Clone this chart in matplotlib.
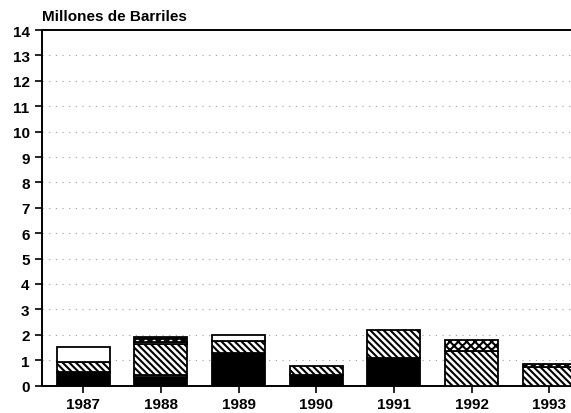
import matplotlib
matplotlib.use("Agg")
import matplotlib.pyplot as plt
import numpy as np

plt.rcParams['font.family'] = ['Liberation Sans', 'DejaVu Sans']
plt.rcParams['hatch.linewidth'] = 1.5

years = ['1987', '1988', '1989', '1990', '1991', '1992', '1993']
y_ticks = list(range(0, 15))

# stacked segments, bottom to top (millions of barrels)
negro = [0.52, 0.33, 1.28, 0.43, 1.07, 0.00, 0.00]
guiones = [0.00, 0.10, 0.00, 0.00, 0.00, 0.00, 0.00]
rayado = [0.42, 1.19, 0.46, 0.35, 1.13, 1.37, 0.72]
blanco = [0.56, 0.10, 0.24, 0.00, 0.00, 0.00, 0.00]
puntos_negro = [0.00, 0.18, 0.00, 0.00, 0.00, 0.00, 0.00]
cuadriculado = [0.00, 0.00, 0.00, 0.00, 0.00, 0.43, 0.13]

segments = [
    (negro, dict(facecolor='black', hatch=None)),
    (guiones, dict(facecolor='white', hatch='--')),
    (rayado, dict(facecolor='white', hatch='\\' * 5)),
    (blanco, dict(facecolor='white', hatch=None)),
    (puntos_negro, dict(facecolor='black', hatch='..', hatchcolor='white')),
    (cuadriculado, dict(facecolor='white', hatch='xxxx')),
]

fig = plt.figure(figsize=(5.71, 4.14), dpi=100)
ax = fig.add_axes([0.0736, 0.0664, 0.9264, 0.8586])

x = np.arange(len(years))
bottom = np.zeros(len(years))
for vals, style in segments:
    vals = np.array(vals)
    mask = vals > 0
    kw = dict(width=0.68, edgecolor='black', linewidth=1.3,
              facecolor=style['facecolor'], zorder=3)
    if style.get('hatch'):
        kw['hatch'] = style['hatch']
    bars = ax.bar(x[mask], vals[mask], bottom=bottom[mask], **kw)
    if style.get('hatchcolor'):
        for b in bars:
            b.set_edgecolor('white')
            b.set_linewidth(0)
        ax.bar(x[mask], vals[mask], bottom=bottom[mask], width=0.68,
               facecolor='none', edgecolor='black', linewidth=1.3, zorder=4)
    bottom = bottom + vals

ax.set_xlim(-0.53, 6.28)
ax.set_ylim(0, 14)
ax.set_yticks(y_ticks)
ax.set_yticklabels([str(t) for t in y_ticks], fontsize=11, fontweight='bold')
ax.set_xticks(x)
ax.set_xticklabels(years, fontsize=11, fontweight='bold')
ax.tick_params(axis='y', length=5, width=1.2, pad=4)
ax.tick_params(axis='x', length=5, width=1.2, pad=3)

for v in range(1, 14):
    ax.axhline(v, color='#9a9a9a', linewidth=0.8, linestyle=(0, (1, 5)), zorder=1)

for side in ['left', 'bottom', 'top']:
    ax.spines[side].set_linewidth(1.4)
ax.spines['right'].set_visible(False)

fig.text(0.0736, 0.975, 'Millones de Barriles', fontsize=11, fontweight='bold',
         ha='left', va='top')

fig.savefig('out.png', dpi=100)
